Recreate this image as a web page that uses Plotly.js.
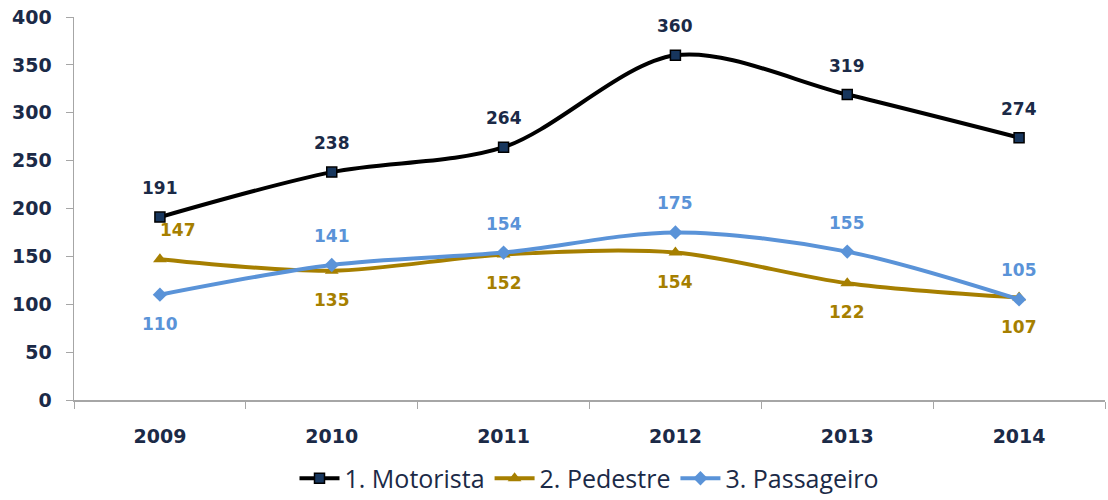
<!DOCTYPE html>
<html>
<head>
<meta charset="utf-8">
<script src="https://cdn.plot.ly/plotly-3.0.1.min.js"></script>
<style>
  html, body { margin: 0; padding: 0; background: #fff; }
  #chart { width: 1108px; height: 500px; }
</style>
</head>
<body>
<div id="chart"></div>
<script>
// data
const years = ['2009', '2010', '2011', '2012', '2013', '2014'];
const motorista = [191, 238, 264, 360, 319, 274];
const pedestre = [147, 135, 152, 154, 122, 107];
const passageiro = [110, 141, 154, 175, 155, 105];

// label placement: +1 above the point, -1 below
const motoristaSide = [1, 1, 1, 1, 1, 1];
const pedestreSide = [1, -1, -1, -1, -1, -1];
const passageiroSide = [-1, 1, 1, 1, 1, 1];

const NAVY = '#1b2a47';
const GOLD = '#a67f00';
const BLUE = '#5a93d8';

const numFont = 'DejaVu Sans, Verdana, sans-serif';

function series(name, y, lineColor, marker) {
  return {
    x: years, y: y, name: name,
    type: 'scatter', mode: 'lines+markers',
    line: { color: lineColor, width: 4, shape: 'spline', smoothing: 0.9 },
    marker: marker,
    hoverinfo: 'skip'
  };
}

const traces = [
  series('1. Motorista', motorista, '#000000',
    { symbol: 'square', size: 10, color: '#17365d', line: { color: '#000', width: 1.5 } }),
  series('2. Pedestre', pedestre, GOLD,
    { symbol: 'triangle-up', size: 12, color: GOLD }),
  series('3. Passageiro', passageiro, BLUE,
    { symbol: 'diamond', size: 11, color: BLUE })
];

// data labels as annotations (x given as category index)
function labels(y, side, color, dxFirst) {
  return y.map((v, i) => ({
    x: i, y: v, xref: 'x', yref: 'y',
    text: String(v), showarrow: false,
    xanchor: 'center', yanchor: 'middle',
    yshift: side[i] * 29,
    xshift: (i === 0 ? dxFirst : 0),
    font: { family: numFont, size: 17, color: color, weight: 'bold' }
  }));
}

const annotations = [].concat(
  labels(motorista, motoristaSide, NAVY, 0),
  labels(pedestre, pedestreSide, GOLD, 18),
  labels(passageiro, passageiroSide, BLUE, 0)
);

const layout = {
  width: 1108, height: 500,
  margin: { l: 74, r: 3, t: 17, b: 100, autoexpand: false },
  paper_bgcolor: '#fff', plot_bgcolor: '#fff',
  showlegend: true,
  legend: {
    orientation: 'h', x: 0.5, xanchor: 'center', y: -0.205, yanchor: 'middle',
    font: { family: 'Open Sans, Lato, sans-serif', size: 25, color: NAVY },
    itemwidth: 40, tracegroupgap: 0
  },
  xaxis: {
    type: 'category', range: [-0.5, 5.5],
    showline: true, linecolor: '#a6a6a6', linewidth: 1.5,
    ticks: 'outside', tickson: 'boundaries', ticklen: 7, tickcolor: '#a6a6a6',
    showgrid: false, zeroline: false,
    ticklabelstandoff: 19,
    tickfont: { family: numFont, size: 19, color: NAVY, weight: 'bold' }
  },
  yaxis: {
    range: [0, 400], tickvals: [0, 50, 100, 150, 200, 250, 300, 350, 400],
    showline: true, linecolor: '#a6a6a6', linewidth: 1.5,
    ticks: 'outside', ticklen: 7, tickcolor: '#a6a6a6',
    showgrid: false, zeroline: false,
    ticklabelstandoff: 10,
    tickfont: { family: numFont, size: 19, color: NAVY, weight: 'bold' }
  },
  annotations: annotations
};

Plotly.newPlot('chart', traces, layout, { displayModeBar: false, staticPlot: true });
</script>
</body>
</html>
